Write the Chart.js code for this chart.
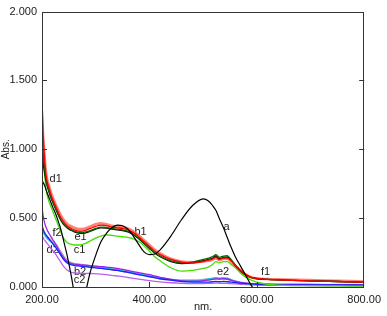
<!DOCTYPE html>
<html><head><meta charset="utf-8">
<script src="https://cdn.jsdelivr.net/npm/chart.js@4.4.1/dist/chart.umd.min.js"></script>
<style>html,body{margin:0;padding:0;background:#fff;overflow:hidden}#wrap{width:387px;height:316px}</style>
</head><body><div id="wrap"><canvas id="c" width="387" height="316"></canvas></div>
<script>
const wavelengths = [200,202,204,206,208,210,213,216,220,225, 230,235,240,245,250,255,260,270,280,290, 300,310,320,330,340,350,360,370,380,390, 400,410,420,440,460,480,500,510,518,524, 530,538,545,552,560,570,580,590,600,620, 650,700,750,800];

const curveA  = [0.77,0.76,0.745,0.725,0.70,0.68,0.65,0.62,0.58,0.535, 0.48,0.42,0.34,0.26,0.17,0.07,-0.04,-0.14,-0.05,0.11, 0.23,0.33,0.39,0.43,0.45,0.445,0.42,0.37,0.31,0.255, 0.235,0.24,0.27,0.37,0.49,0.59,0.64,0.625,0.59,0.555, 0.50,0.43,0.36,0.29,0.22,0.15,0.08,0.01,-0.04,-0.1, -0.12,-0.12,-0.12,-0.12];
const curveB1 = [1.32,1.12,0.98,0.87,0.80,0.76,0.72,0.68,0.635,0.59, 0.545,0.505,0.475,0.45,0.435,0.425,0.415,0.405,0.41,0.425, 0.44,0.45,0.445,0.435,0.43,0.425,0.415,0.395,0.365,0.33, 0.295,0.26,0.235,0.20,0.18,0.175,0.185,0.195,0.205,0.215, 0.20,0.21,0.21,0.19,0.16,0.12,0.09,0.07,0.062,0.056, 0.05,0.045,0.04,0.035];
const curveD1 = [1.28,1.10,0.99,0.89,0.815,0.775,0.735,0.695,0.65,0.605, 0.56,0.52,0.49,0.465,0.45,0.44,0.43,0.42,0.425,0.44, 0.455,0.462,0.455,0.445,0.44,0.435,0.425,0.405,0.375,0.34, 0.305,0.27,0.245,0.205,0.185,0.18,0.185,0.19,0.20,0.21, 0.195,0.205,0.205,0.185,0.155,0.12,0.09,0.07,0.062,0.058, 0.055,0.05,0.045,0.04];
const curveE1 = [1.10,0.98,0.90,0.83,0.78,0.74,0.70,0.66,0.62,0.575, 0.53,0.49,0.46,0.44,0.425,0.415,0.405,0.395,0.398,0.41, 0.425,0.435,0.432,0.425,0.42,0.415,0.405,0.385,0.355,0.32, 0.285,0.25,0.225,0.19,0.175,0.18,0.20,0.21,0.22,0.235, 0.215,0.225,0.228,0.20,0.16,0.115,0.085,0.07,0.062,0.055, 0.05,0.045,0.04,0.035];
const curveF1 = [0.98,0.90,0.85,0.80,0.76,0.73,0.69,0.655,0.615,0.57, 0.525,0.485,0.455,0.435,0.42,0.41,0.40,0.39,0.392,0.405, 0.42,0.43,0.428,0.42,0.415,0.41,0.40,0.38,0.35,0.315, 0.28,0.245,0.22,0.185,0.17,0.175,0.19,0.20,0.21,0.225, 0.205,0.215,0.218,0.195,0.155,0.115,0.085,0.068,0.06,0.055, 0.05,0.045,0.04,0.033];
const curveC1 = [1.15,0.98,0.86,0.77,0.70,0.66,0.62,0.59,0.55,0.50, 0.45,0.40,0.355,0.33,0.315,0.31,0.305,0.305,0.315,0.335, 0.355,0.37,0.378,0.375,0.37,0.365,0.36,0.35,0.33,0.30, 0.26,0.22,0.19,0.14,0.115,0.12,0.135,0.145,0.165,0.185, 0.175,0.185,0.185,0.165,0.14,0.10,0.07,0.05,0.035,0.02, 0.012,0.01,0.008,0.006];
const curveF2 = [0.58,0.52,0.48,0.45,0.43,0.41,0.39,0.37,0.345,0.315, 0.28,0.245,0.215,0.19,0.178,0.17,0.166,0.163,0.158,0.154, 0.151,0.148,0.145,0.14,0.135,0.128,0.12,0.112,0.105,0.097, 0.09,0.08,0.07,0.055,0.045,0.042,0.045,0.05,0.055,0.06, 0.058,0.06,0.058,0.05,0.04,0.032,0.028,0.025,0.022,0.02, 0.018,0.018,0.017,0.017];
const curveB2 = [0.45,0.42,0.40,0.385,0.375,0.365,0.35,0.335,0.315,0.29, 0.26,0.23,0.20,0.18,0.167,0.16,0.156,0.152,0.148,0.143, 0.139,0.135,0.13,0.125,0.12,0.113,0.106,0.098,0.09,0.082, 0.075,0.068,0.06,0.05,0.04,0.036,0.035,0.036,0.038,0.04, 0.038,0.04,0.038,0.035,0.032,0.028,0.025,0.022,0.02,0.018, 0.016,0.015,0.015,0.014];
const curveD2 = [0.42,0.40,0.385,0.37,0.36,0.35,0.34,0.33,0.315,0.295, 0.27,0.24,0.21,0.19,0.175,0.166,0.161,0.157,0.152,0.147, 0.143,0.139,0.135,0.13,0.124,0.117,0.11,0.102,0.094,0.086, 0.078,0.07,0.063,0.052,0.045,0.045,0.05,0.058,0.062,0.066, 0.062,0.065,0.062,0.052,0.04,0.03,0.025,0.022,0.02,0.018, 0.016,0.015,0.014,0.013];
const curveE2 = [0.43,0.41,0.395,0.38,0.37,0.36,0.35,0.34,0.325,0.305, 0.28,0.25,0.22,0.198,0.182,0.172,0.166,0.161,0.156,0.15, 0.146,0.141,0.136,0.131,0.125,0.118,0.111,0.103,0.095,0.087, 0.079,0.071,0.064,0.053,0.046,0.046,0.05,0.056,0.06,0.063, 0.06,0.063,0.06,0.05,0.04,0.03,0.025,0.022,0.02,0.018, 0.016,0.015,0.014,0.013];
const curveC2 = [0.38,0.36,0.345,0.335,0.325,0.315,0.30,0.285,0.265,0.24, 0.21,0.18,0.152,0.13,0.115,0.107,0.103,0.10,0.099,0.098, 0.096,0.094,0.09,0.085,0.08,0.075,0.069,0.063,0.057,0.051, 0.046,0.041,0.037,0.031,0.027,0.025,0.025,0.026,0.027,0.028, 0.027,0.027,0.026,0.024,0.022,0.02,0.018,0.016,0.015,0.013, 0.012,0.011,0.01,0.01];

const xTickValues = [200, 400, 600, 800];
const yTickValues = [0, 0.5, 1.0, 1.5, 2.0];
const curveLabelTexts = ['a','b1','e1','c1','d1','f2','d2','b2','c2','e2','f1'];
const curveLabelNm    = [543.6, 383.6, 271.8, 270, 225.5, 228.2, 220, 270.9, 270, 537.3, 616.4];
const curveLabelAbs   = [0.434, 0.399, 0.363, 0.267, 0.783, 0.391, 0.27, 0.108, 0.05, 0.107, 0.107];

const FONT = {family: '"Liberation Sans", Arial, sans-serif', size: 11};

function pts(vals){ return wavelengths.map((x,i)=>({x:x, y:vals[i]})); }
function ds(label, vals, color, width){
  return {label:label, data:pts(vals), borderColor:color, borderWidth:width, pointRadius:0, fill:false, cubicInterpolationMode:'monotone'};
}

const frameAndTicks = {
  id:'frameAndTicks',
  afterDraw(chart){
    const ctx = chart.ctx, a = chart.chartArea, xs = chart.scales.x, ys = chart.scales.y;
    ctx.save();
    ctx.strokeStyle = '#333'; ctx.lineWidth = 1;
    ctx.strokeRect(Math.round(a.left)+0.5, Math.round(a.top)+0.5, Math.round(a.right-a.left)-1, Math.round(a.bottom-a.top));
    ctx.beginPath();
    yTickValues.forEach(v=>{
      if (v<=0 || v>=2) return;
      const y = Math.round(ys.getPixelForValue(v))+0.5;
      ctx.moveTo(a.left, y); ctx.lineTo(a.left+5, y);
      ctx.moveTo(a.right-5, y); ctx.lineTo(a.right, y);
    });
    xTickValues.forEach(v=>{
      if (v<=200 || v>=800) return;
      const x = Math.round(xs.getPixelForValue(v))+0.5;
      ctx.moveTo(x, a.bottom); ctx.lineTo(x, a.bottom-5);
    });
    ctx.stroke();
    ctx.restore();
  }
};
const curveLabelsPlugin = {
  id:'curveLabels',
  beforeDatasetsDraw(chart){
    const ctx = chart.ctx, xs = chart.scales.x, ys = chart.scales.y;
    ctx.save();
    ctx.font = FONT.size + 'px ' + FONT.family;
    ctx.fillStyle = '#222'; ctx.textAlign = 'center'; ctx.textBaseline = 'middle';
    curveLabelTexts.forEach((t,i)=>{
      ctx.fillText(t, xs.getPixelForValue(curveLabelNm[i]), ys.getPixelForValue(curveLabelAbs[i]));
    });
    ctx.restore();
  }
};

new Chart(document.getElementById('c'), {
  type:'line',
  data:{datasets:[
    ds('a', curveA, '#000000', 1.2),
    ds('b1', curveB1, '#ff0000', 1.3),
    ds('e1', curveE1, '#006a00', 1.3),
    ds('f1', curveF1, '#101010', 1.3),
    ds('d1', curveD1, 'rgba(255,90,70,0.75)', 2.6),
    ds('c1', curveC1, '#44dd00', 1.3),
    ds('b2', curveB2, '#2020ff', 1.3),
    ds('f2', curveF2, '#9a22ee', 1.3),
    ds('d2', curveD2, '#18c8e0', 1.3),
    ds('c2', curveC2, '#b860f0', 1.3),
    ds('e2', curveE2, '#b0b0b0', 2.6)
  ]},
  options:{
    responsive:false, animation:false, devicePixelRatio:1,
    layout:{padding:{top:6, right:15, left:0, bottom:0}, autoPadding:false},
    plugins:{legend:{display:false}, tooltip:{enabled:false}},
    scales:{
      x:{type:'linear', min:200, max:800,
        afterBuildTicks:s=>{s.ticks = xTickValues.map(v=>({value:v}));},
        ticks:{callback:v=>v.toFixed(2), font:FONT, color:'#222', padding:6, maxRotation:0, autoSkip:false},
        grid:{display:false, drawTicks:false}, border:{display:false},
        title:{display:true, text:'nm.', font:FONT, color:'#222', padding:{top:0,bottom:2}},
        afterFit:s=>{s.height = 29;}
      },
      y:{type:'linear', min:0, max:2,
        afterBuildTicks:s=>{s.ticks = yTickValues.map(v=>({value:v}));},
        ticks:{callback:v=>v.toFixed(3), font:FONT, color:'#222', padding:5, autoSkip:false},
        grid:{display:false, drawTicks:false}, border:{display:false},
        title:{display:true, text:'Abs.', font:{family:FONT.family, size:10}, color:'#222', padding:{top:0,bottom:0}},
        afterFit:s=>{s.width = 42;}
      }
    }
  },
  plugins:[frameAndTicks, curveLabelsPlugin]
});
</script></body></html>
